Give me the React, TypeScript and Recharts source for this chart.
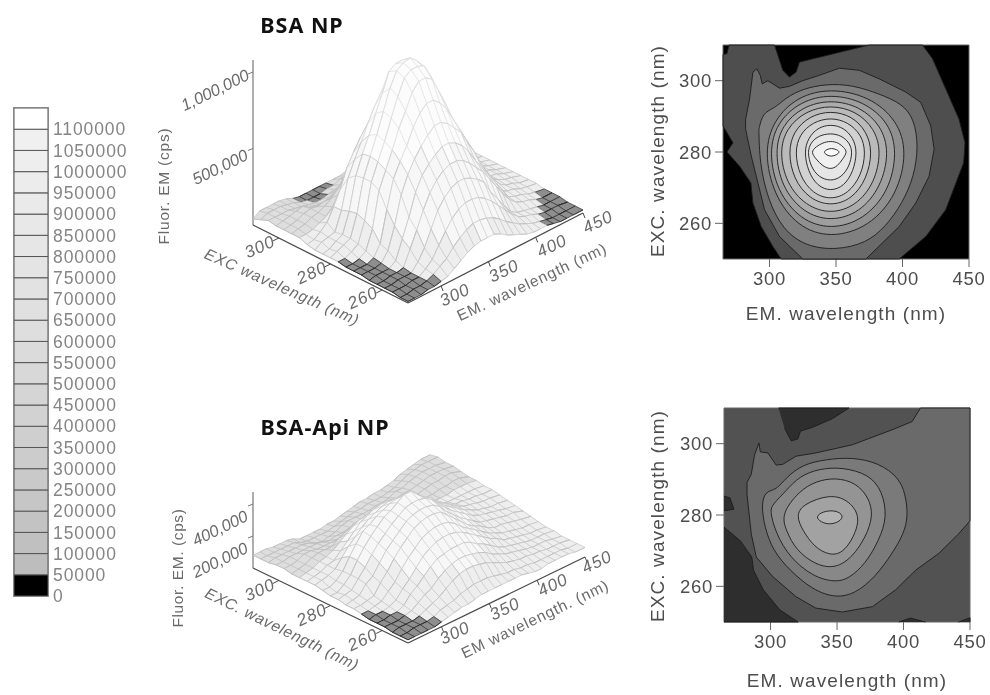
import { Bar, BarChart, ReferenceArea, Scatter, ScatterChart, XAxis, YAxis } from 'recharts';

const FONT = '"Liberation Sans", Arial, sans-serif';

type Pt = [number, number];

// ---- colour scale legend ----
const scaleTicks = [0, 50000, 100000, 150000, 200000, 250000, 300000, 350000, 400000, 450000, 500000, 550000, 600000, 650000, 700000, 750000, 800000, 850000, 900000, 950000, 1000000, 1050000, 1100000];
const scaleFills = ['#000000', '#bdbdbd', '#c0c0c0', '#c3c3c3', '#c6c6c6', '#c9c9c9', '#cccccc', '#cfcfcf', '#d2d2d2', '#d5d5d5', '#d8d8d8', '#dbdbdb', '#dedede', '#e0e0e0', '#e2e2e2', '#e4e4e4', '#e6e6e6', '#e8e8e8', '#eaeaea', '#ececec', '#eeeeee', '#f0f0f0', '#ffffff'];
const scaleRow: Record<string, string | number> = { name: 'scale' };
scaleFills.forEach((_, i) => { scaleRow[`b${i}`] = 50000; });

// ---- surface grids, heights in units of 10,000 cps ----
const emGrid = [265, 272, 279, 286, 293, 300, 307, 314, 321, 328, 335, 342, 349, 356, 363, 370, 377, 384, 391, 398, 405, 412, 419, 426, 433, 440, 450];
const excGrid = [310, 307, 304, 301, 298, 295, 292, 289, 286, 283, 280, 277, 274, 271, 268, 265, 262, 259, 256, 253, 250];

const bsaHeights = [
  [4, 7, 7, 7, 7, 6, 4, 3, 3, 3, 3, 3, 3, 3, 4, 4, 6, 6, 6, 6, 6, 5, 4, 4, 4, 4, 4],
  [6, 8, 8, 8, 7, 6, 4, 3, 3, 3, 4, 4, 6, 6, 6, 6, 6, 6, 6, 6, 6, 6, 6, 5, 4, 4, 4],
  [8, 8, 8, 8, 7, 6, 5, 4, 4, 5, 6, 7, 9, 10, 8, 7, 7, 7, 7, 7, 6, 6, 6, 5, 5, 4, 4],
  [7, 8, 9, 10, 11, 8, 7, 6, 8, 10, 11, 13, 14, 14, 14, 13, 12, 10, 9, 8, 8, 7, 7, 6, 5, 4, 4],
  [7, 8, 9, 11, 12, 11, 12, 12, 14, 17, 20, 24, 26, 25, 22, 20, 17, 14, 11, 9, 8, 7, 7, 6, 5, 4, 4],
  [7, 8, 9, 11, 12, 14, 17, 21, 27, 34, 38, 41, 42, 41, 38, 34, 30, 26, 22, 19, 15, 11, 9, 8, 6, 5, 4],
  [7, 7, 8, 10, 12, 16, 22, 32, 42, 50, 54, 56, 56, 54, 50, 46, 39, 33, 27, 21, 15, 10, 9, 7, 6, 4, 4],
  [5, 6, 9, 13, 21, 30, 42, 50, 57, 63, 69, 72, 72, 70, 64, 58, 51, 44, 35, 27, 20, 14, 10, 8, 6, 5, 4],
  [4, 7, 8, 9, 21, 40, 50, 59, 69, 78, 85, 89, 89, 85, 80, 70, 60, 51, 43, 32, 24, 17, 11, 9, 7, 6, 4],
  [4, 5, 8, 10, 23, 44, 56, 66, 78, 89, 101, 104, 104, 103, 91, 80, 68, 57, 47, 36, 27, 19, 13, 9, 8, 6, 4],
  [4, 6, 8, 10, 24, 45, 57, 69, 82, 95, 104, 107, 108, 104, 98, 83, 71, 59, 49, 38, 28, 20, 13, 9, 8, 6, 4],
  [4, 4, 6, 9, 22, 45, 56, 67, 80, 92, 102, 105, 105, 103, 94, 82, 69, 58, 49, 37, 28, 20, 13, 9, 8, 6, 4],
  [3, 3, 4, 7, 19, 42, 53, 64, 76, 85, 95, 100, 100, 97, 87, 77, 65, 55, 46, 35, 26, 19, 12, 9, 7, 6, 4],
  [3, 3, 3, 5, 12, 32, 50, 59, 67, 77, 84, 88, 88, 84, 78, 69, 60, 51, 42, 32, 24, 17, 11, 8, 7, 5, 4],
  [3, 3, 3, 4, 10, 24, 42, 53, 61, 67, 72, 76, 76, 73, 68, 63, 54, 46, 36, 28, 18, 11, 9, 8, 6, 5, 4],
  [2, 3, 3, 3, 6, 18, 30, 44, 53, 58, 62, 65, 65, 63, 59, 53, 45, 38, 31, 24, 17, 10, 8, 7, 5, 4, 3],
  [2, 2, 3, 3, 4, 14, 24, 35, 44, 50, 54, 56, 56, 54, 50, 45, 40, 33, 26, 19, 13, 9, 7, 6, 4, 3, 3],
  [2, 2, 3, 3, 3, 8, 15, 25, 35, 41, 45, 47, 47, 45, 42, 38, 29, 23, 16, 10, 7, 6, 5, 4, 3, 3, 3],
  [2, 2, 2, 3, 3, 6, 10, 17, 24, 30, 34, 36, 36, 35, 32, 28, 23, 18, 13, 9, 7, 6, 4, 3, 3, 3, 2],
  [1, 1, 2, 2, 3, 5, 8, 11, 16, 20, 23, 25, 25, 24, 22, 19, 15, 12, 9, 7, 5, 4, 3, 2, 2, 2, 2],
  [1, 1, 1, 2, 2, 3, 4, 7, 10, 13, 15, 16, 16, 16, 14, 11, 9, 7, 5, 4, 4, 4, 3, 2, 2, 2, 2],
];

const apiHeights = [
  [8, 8, 8, 7, 7, 7, 6, 4, 4, 4, 4, 5, 5, 6, 7, 8, 9, 9, 10, 10, 11, 12, 14, 15, 16, 17, 17],
  [8, 8, 8, 8, 8, 8, 6, 5, 5, 5, 5, 6, 7, 8, 9, 9, 10, 10, 10, 11, 12, 14, 16, 17, 18, 18, 18],
  [8, 9, 9, 9, 9, 9, 8, 6, 5, 6, 7, 9, 10, 10, 10, 10, 11, 11, 12, 14, 14, 16, 17, 18, 18, 18, 17],
  [9, 9, 10, 10, 10, 10, 10, 9, 8, 9, 9, 10, 10, 11, 11, 12, 13, 13, 14, 15, 15, 16, 17, 18, 18, 18, 17],
  [9, 9, 10, 12, 12, 11, 11, 11, 11, 11, 12, 12, 13, 13, 14, 14, 14, 14, 15, 15, 15, 16, 17, 17, 18, 18, 16],
  [8, 9, 10, 12, 13, 13, 13, 16, 18, 20, 21, 22, 22, 22, 22, 21, 20, 18, 16, 15, 15, 15, 16, 16, 17, 17, 15],
  [8, 9, 10, 12, 13, 15, 18, 21, 24, 26, 27, 28, 28, 28, 27, 26, 24, 22, 20, 18, 15, 15, 15, 16, 16, 16, 15],
  [8, 9, 10, 12, 13, 17, 21, 25, 29, 31, 33, 34, 34, 33, 32, 30, 27, 25, 22, 20, 16, 15, 15, 15, 15, 15, 14],
  [8, 9, 10, 12, 17, 22, 26, 30, 33, 35, 37, 38, 38, 37, 35, 33, 30, 27, 24, 21, 18, 16, 16, 15, 15, 14, 14],
  [7, 7, 9, 13, 20, 26, 32, 34, 37, 39, 41, 42, 42, 41, 39, 35, 31, 27, 25, 22, 19, 17, 16, 15, 14, 14, 13],
  [6, 6, 9, 13, 20, 26, 31, 35, 39, 41, 44, 47, 47, 43, 39, 37, 32, 28, 25, 22, 19, 17, 15, 14, 13, 13, 12],
  [6, 7, 8, 13, 18, 24, 29, 33, 37, 40, 43, 44, 44, 43, 40, 35, 31, 27, 24, 21, 18, 16, 15, 14, 13, 12, 11],
  [5, 6, 7, 12, 15, 21, 27, 31, 35, 39, 41, 42, 42, 41, 38, 33, 29, 25, 22, 19, 16, 15, 14, 13, 12, 12, 10],
  [5, 5, 6, 7, 13, 18, 24, 29, 33, 37, 39, 40, 40, 39, 35, 31, 27, 23, 20, 18, 15, 13, 13, 12, 11, 10, 9],
  [4, 4, 5, 6, 10, 14, 20, 25, 29, 33, 35, 36, 36, 35, 32, 28, 25, 22, 19, 16, 14, 12, 11, 10, 9, 9, 8],
  [3, 4, 4, 5, 7, 12, 16, 21, 26, 29, 31, 32, 32, 31, 29, 26, 23, 20, 17, 15, 12, 11, 10, 9, 8, 8, 7],
  [3, 3, 4, 4, 6, 11, 14, 18, 22, 25, 26, 27, 27, 27, 25, 22, 20, 17, 14, 12, 11, 10, 9, 8, 8, 8, 7],
  [3, 3, 3, 4, 5, 8, 11, 13, 17, 20, 22, 23, 23, 22, 21, 19, 16, 14, 12, 11, 10, 9, 8, 8, 8, 7, 6],
  [2, 3, 3, 3, 4, 6, 8, 10, 13, 16, 18, 19, 19, 18, 17, 15, 13, 11, 10, 9, 9, 8, 8, 7, 7, 7, 6],
  [2, 2, 3, 3, 3, 4, 6, 7, 8, 10, 11, 12, 12, 12, 11, 10, 9, 9, 8, 8, 7, 7, 7, 7, 7, 6, 6],
  [2, 2, 2, 2, 2, 3, 4, 5, 6, 6, 7, 8, 8, 8, 8, 8, 8, 8, 7, 6, 6, 7, 7, 7, 7, 6, 6],
];

// ---- contour outlines, [EM nm, EXC nm] ----
const emTicks = [300, 350, 400, 450];
const excTicks = [260, 280, 300];

const bsaOuter: Pt[] = [[269.5, 310], [303.75, 310], [310, 302.9], [315, 301], [320, 302.4], [322.5, 305.2], [375, 310], [415, 310], [422.5, 306.2], [432.5, 297.7], [442.5, 289.2], [447, 282.6], [446, 277], [432.5, 263.8], [417.5, 256.3], [397.5, 250], [308.75, 250], [302.5, 253.5], [293.75, 259.1], [287.5, 265.7], [286, 271.3], [277.5, 276], [268, 280], [272.5, 282.6], [265, 287.3], [265, 307.3], [268, 307.6], [269.5, 310]];
const bsaBandB: Pt[] = [[282, 289.2], [285, 294.9], [287.5, 302.4], [290.5, 303.3], [293, 301.5], [294.5, 299.1], [298.75, 300], [307.5, 297.9], [315, 298.4], [325, 300], [337.5, 301.5], [352.5, 303.5], [367.5, 302.9], [382.5, 300.5], [402.5, 296.8], [413.75, 293.9], [421.25, 287.3], [423.75, 280.8], [420, 273.2], [410, 265.7], [397.5, 259.1], [372.5, 250], [325, 250], [307.5, 256.3], [296.25, 263.8], [286.25, 278.9], [282, 286.4], [282, 289.2]];
const bsaBandC: Pt[] = [[292, 286.4], [295, 291.1], [303.75, 292.2], [312.5, 295.3], [325, 297.7], [342.5, 299.1], [362.5, 298.8], [382.5, 296.3], [400, 293.5], [408.75, 289.2], [412, 281.7], [408.75, 273.2], [400, 265.7], [387.5, 259.1], [372.5, 254.4], [350, 252.5], [327.5, 253.5], [310, 258.2], [298.75, 266.6], [292.5, 277], [292, 286.4]];
const bsaRing1: Pt[] = [[346, 297.9], [375, 295.6], [396, 289], [403.5, 280], [396, 268], [375, 259], [346, 255.8], [321, 259], [303, 268], [296, 280], [303, 289], [321, 295.6]];
const bsaRing2: Pt[] = [[346, 296.3], [371, 294.2], [390, 288.2], [396, 280], [390, 269.1], [371, 261], [346, 258.2], [323, 261], [305.5, 269.1], [299.5, 280], [305.5, 288.2], [323, 294.2]];
const bsaRing3: Pt[] = [[346, 294.7], [368, 292.8], [384, 287.4], [390, 280], [384, 270.3], [368, 263], [346, 260.5], [325, 263], [309, 270.3], [304, 280], [309, 287.4], [325, 292.8]];
const bsaRing4: Pt[] = [[346, 293.2], [365, 291.5], [379, 286.6], [384, 280], [379, 271.3], [365, 264.9], [346, 262.6], [327, 264.9], [312.5, 271.3], [307.5, 280], [312.5, 286.6], [327, 291.5]];
const bsaRing5: Pt[] = [[346, 291.6], [362, 290.1], [373, 285.8], [377.5, 280], [373, 272.4], [362, 266.8], [346, 264.8], [330, 266.8], [318, 272.4], [314, 280], [318, 285.8], [330, 290.1]];
const bsaRing6: Pt[] = [[346, 289.7], [359, 288.4], [369, 284.9], [372.5, 280], [369, 273.3], [359, 268.3], [346, 266.6], [332.5, 268.3], [322.5, 273.3], [319, 280], [322.5, 284.9], [332.5, 288.4]];
const bsaRing7: Pt[] = [[346, 287.8], [356, 286.8], [363, 283.9], [366, 280], [363, 274.5], [356, 270.4], [346, 269], [336, 270.4], [329, 274.5], [326, 280], [329, 283.9], [336, 286.8]];
const bsaRing8: Pt[] = [[346, 285.3], [354, 284.6], [360, 282.7], [362.5, 280], [360, 275.9], [354, 272.9], [346, 271.8], [337, 272.9], [331, 275.9], [328.5, 280], [331, 282.7], [337, 284.6]];
const bsaRing9: Pt[] = [[346, 283.1], [352, 282.6], [356, 281.2], [358.5, 280], [355, 278], [351, 276], [346, 275.1], [340, 276], [335, 278], [331, 280], [335, 281.5], [340, 282.6]];
const bsaPeak: Pt[] = [[346.5, 281.1], [350.5, 280.7], [353, 280], [350.5, 279.2], [346.5, 278.7], [343, 279.1], [340.5, 280], [343, 280.7]];

const apiBandB: Pt[] = [[412.7, 310], [450, 310], [450, 278.4], [441.4, 274.7], [426.4, 269.2], [409, 264.5], [394, 259], [376.6, 254.3], [354, 252.8], [334, 253.9], [319.2, 257.1], [301.7, 262.7], [289.3, 268.2], [285.5, 274.7], [282.3, 285.8], [282.3, 289.1], [285.5, 291.4], [288, 296.9], [291.3, 300.2], [292.3, 297.7], [298, 297.4], [304.2, 294], [309.2, 294.2], [319.2, 296.5], [334, 297.4], [361.6, 299.7], [391.5, 303.9], [406.5, 306.2], [412.7, 310]];
const apiNotch: Pt[] = [[306, 310], [359, 310], [346.5, 307], [331.7, 304.6], [322.5, 303.5], [320.5, 301.3], [315.5, 300.8], [310.5, 304.4]];
const apiPatch: Pt[] = [[265, 285.3], [269.5, 284.8], [272.5, 281.6], [265, 281.2]];
const apiCorner: Pt[] = [[265, 276.6], [277.2, 272.8], [285.9, 268.2], [287.2, 264.5], [294.6, 259], [307, 253.4], [320.7, 250], [265, 250]];
const apiNub1: Pt[] = [[396.5, 250], [405.2, 251.1], [416.5, 250]];
const apiNub2: Pt[] = [[441.4, 250], [450, 251.2], [450, 250]];
const apiRing1: Pt[] = [[293, 283], [296.3, 286.8], [304.2, 286.9], [311.7, 290.5], [324.2, 294.2], [341.6, 295.6], [361.6, 296.2], [381.5, 294.6], [396.5, 290.5], [401.5, 285.8], [403.5, 279.8], [400.2, 274.7], [391.5, 269.2], [379, 262.7], [364, 258], [349, 256.7], [331.7, 259], [314.2, 264.5], [301.7, 270.1], [295.5, 276.6]];
const apiRing2: Pt[] = [[299.3, 281.2], [301.7, 283], [311.7, 286.8], [321.7, 290.9], [336.7, 293], [354, 293.4], [374, 291.4], [384, 286.8], [387.8, 279.4], [381.5, 272.9], [371.6, 266.4], [359, 262.2], [349, 261.1], [331.7, 262.7], [314.2, 268.2], [304.2, 274.7]];
const apiRing3: Pt[] = [[308, 280.3], [321.7, 286.8], [334.2, 289.5], [349, 290.5], [364, 289.1], [374, 284.9], [377.3, 279.8], [371.6, 273.8], [361.6, 268.2], [349, 265], [334.2, 265.9], [319.2, 270.1], [311.7, 275.6]];
const apiRing4: Pt[] = [[319.2, 279.8], [324.2, 283], [344.1, 285.8], [357.9, 284.4], [367.8, 279.8], [362.8, 273.8], [354, 269.2], [344.1, 268.7], [332.9, 271], [324.2, 275.6]];
const apiPeak: Pt[] = [[333.7, 279.5], [339.2, 281], [349, 281.4], [355.4, 279.8], [351.6, 278], [344.1, 277.3], [337.9, 278]];

// fills run from the outer band inwards
const bsaLayers: { pts: Pt[]; fill: string; closed?: boolean }[] = [
  { pts: bsaOuter, fill: '#4e4e4e' },
  { pts: bsaBandB, fill: '#6a6a6a' },
  { pts: bsaBandC, fill: '#808080', closed: true },
  { pts: bsaRing1, fill: '#8f8f8f', closed: true },
  { pts: bsaRing2, fill: '#9e9e9e', closed: true },
  { pts: bsaRing3, fill: '#acacac', closed: true },
  { pts: bsaRing4, fill: '#bababa', closed: true },
  { pts: bsaRing5, fill: '#c6c6c6', closed: true },
  { pts: bsaRing6, fill: '#d2d2d2', closed: true },
  { pts: bsaRing7, fill: '#dcdcdc', closed: true },
  { pts: bsaRing8, fill: '#e6e6e6', closed: true },
  { pts: bsaRing9, fill: '#f0f0f0', closed: true },
  { pts: bsaPeak, fill: '#fafafa', closed: true },
];
const apiLayers: { pts: Pt[]; fill: string; closed?: boolean }[] = [
  { pts: apiCorner, fill: '#2e2e2e' },
  { pts: apiNotch, fill: '#2e2e2e' },
  { pts: apiPatch, fill: '#2e2e2e' },
  { pts: apiNub1, fill: '#2e2e2e' },
  { pts: apiNub2, fill: '#2e2e2e' },
  { pts: apiBandB, fill: '#6a6a6a' },
  { pts: apiRing1, fill: '#7a7a7a', closed: true },
  { pts: apiRing2, fill: '#888888', closed: true },
  { pts: apiRing3, fill: '#949494', closed: true },
  { pts: apiRing4, fill: '#a2a2a2', closed: true },
  { pts: apiPeak, fill: '#b2b2b2', closed: true },
];

// ---- mesh colours by height ----
const meshDark = { line: '#262626', fill: '#8e8e8e' };
const meshBack = { line: '#bdbdbd', fill: '#dedede' };
const meshBands = [
  { under: 20, line: '#c2c2c2', fill: '#eeeeee' },
  { under: 60, line: '#cacaca', fill: '#f7f7f7' },
  { under: 999, line: '#dcdcdc', fill: '#fcfcfc' },
];

type View = { front: Pt; left: Pt; right: Pt; zPx: number; darkUnder: number };
const bsaView: View = { front: [408, 303], left: [253, 225], right: [583, 213], zPx: 1.53, darkUnder: 4 };
const apiView: View = { front: [408, 643], left: [253, 568], right: [585, 557], zPx: 1.6, darkUnder: 4 };

function project(v: View, em: number, exc: number, z: number) {
  const u = (em - 265) / 185;
  const w = (exc - 250) / 60;
  return {
    x: v.front[0] + u * (v.right[0] - v.front[0]) + w * (v.left[0] - v.front[0]),
    y: v.front[1] + u * (v.right[1] - v.front[1]) + w * (v.left[1] - v.front[1]) - z * v.zPx,
  };
}

const hiddenDot = () => <g />;

function meshStrips(v: View, heights: number[][]) {
  const out: any[] = [];
  for (let r = 0; r < excGrid.length - 1; r++) {
    const styleOf = (z: number) => {
      if (z < v.darkUnder) return meshDark;
      if (excGrid[r] >= 295) return meshBack;
      return meshBands.find((b) => z < b.under) ?? meshBands[2];
    };
    const at = (row: number, c: number) => project(v, emGrid[c], excGrid[row], heights[row][c]);
    const quadZ = (c: number) => (heights[r][c] + heights[r][c + 1] + heights[r + 1][c] + heights[r + 1][c + 1]) / 4;
    let end = emGrid.length - 1;
    while (end > 0) {
      const style = styleOf(quadZ(end - 1));
      let start = end - 1;
      while (start > 0 && styleOf(quadZ(start - 1)) === style) start--;
      const outline = [];
      for (let c = start; c <= end; c++) outline.push(at(r, c));
      for (let c = end; c >= start; c--) outline.push(at(r + 1, c));
      // one polyline that walks every rung, then both rails of the strip
      const wires = [];
      for (let c = start; c <= end; c++) {
        const flip = (c - start) % 2 === 1;
        wires.push(at(flip ? r + 1 : r, c), at(flip ? r : r + 1, c));
      }
      const last = (end - start) % 2 === 1 ? r : r + 1;
      for (let c = end; c >= start; c--) wires.push(at(last, c));
      const other = last === r ? r + 1 : r;
      for (let c = start; c <= end; c++) wires.push(at(other, c));
      out.push(
        <Scatter key={`f${r}-${end}`} data={outline} shape={hiddenDot} line={{ fill: style.fill, stroke: 'none' }} isAnimationActive={false} />,
        <Scatter key={`l${r}-${end}`} data={wires} shape={hiddenDot} line={{ fill: 'none', stroke: style.line, strokeWidth: 0.7 }} isAnimationActive={false} />
      );
      end = start;
    }
  }
  return out;
}

function Tilted({ x, y, angle = 0, size = 15, color = '#6a6a6a', italic, bold, spacing, family, children }: any) {
  return (
    <div
      style={{
        position: 'absolute',
        left: x,
        top: y,
        transform: `translate(-50%, -50%) rotate(${angle}deg)`,
        fontFamily: family ?? FONT,
        fontSize: size,
        fontStyle: italic ? 'italic' : 'normal',
        fontWeight: bold ? 700 : 400,
        letterSpacing: spacing,
        color,
        whiteSpace: 'nowrap',
        lineHeight: 1,
      }}
    >
      {children}
    </div>
  );
}

function Surface3D({ view, heights, top, height, zTicks }: { view: View; heights: number[][]; top: number; height: number; zTicks: number[] }) {
  const line = (pts: { x: number; y: number }[], stroke: string, width: number, key: string) => (
    <Scatter key={key} data={pts} shape={hiddenDot} line={{ stroke, strokeWidth: width, fill: 'none' }} isAnimationActive={false} />
  );
  const corner = project(view, 265, 310, 0);
  const zTop = Math.max(...zTicks) * view.zPx + 12;
  return (
    <div style={{ position: 'absolute', left: 150, top, width: 470, height }}>
      <ScatterChart width={470} height={height} margin={{ top: 0, right: 0, bottom: 0, left: 0 }}>
        <XAxis type="number" dataKey="x" domain={[150, 620]} hide />
        <YAxis type="number" dataKey="y" domain={[top, top + height]} reversed hide />
        {line([project(view, 265, 310, 0), { x: corner.x, y: corner.y - zTop }], '#9a9a9a', 1.6, 'zaxis')}
        {zTicks.map((t) => {
          const p = project(view, 265, 310, t);
          return line([p, { x: p.x - 5, y: p.y + 2 }], '#777777', 1, `zt${t}`);
        })}
        {meshStrips(view, heights)}
        {line([project(view, 265, 310, 0), project(view, 265, 250, 0)], '#4a4a4a', 1.3, 'excaxis')}
        {line([project(view, 265, 250, 0), project(view, 450, 250, 0)], '#4a4a4a', 1.3, 'emaxis')}
        {excTicks.map((t) => {
          const p = project(view, 265, t, 0);
          return line([p, { x: p.x - 6, y: p.y + 3 }], '#4a4a4a', 1, `xt${t}`);
        })}
        {emTicks.map((t) => {
          const p = project(view, t, 250, 0);
          return line([p, { x: p.x + 2, y: p.y + 5 }], '#4a4a4a', 1, `et${t}`);
        })}
      </ScatterChart>
    </div>
  );
}

function ContourPlot({ left, top, layers, base }: { left: number; top: number; layers: { pts: Pt[]; fill: string; closed?: boolean }[]; base: string }) {
  const tickStyle = { fill: '#4d4d4d', fontSize: 18.5, fontFamily: FONT, letterSpacing: 0.7 };
  return (
    <div style={{ position: 'absolute', left, top }}>
      <ScatterChart width={345} height={270} margin={{ top: 0, right: 0, bottom: 0, left: 20 }}>
        <XAxis type="number" dataKey="em" domain={[265, 450]} ticks={emTicks} tickSize={8} tickMargin={5} height={41} stroke="#666666" tick={tickStyle} interval={0} />
        <XAxis xAxisId="top" type="number" dataKey="em" orientation="top" domain={[265, 450]} ticks={emTicks} tickSize={8} height={15} stroke="#666666" tickFormatter={() => ''} interval={0} />
        <YAxis type="number" dataKey="exc" domain={[250, 310]} ticks={excTicks} tickSize={8} tickMargin={3} width={63} stroke="#666666" tick={tickStyle} interval={0} />
        <YAxis yAxisId="right" type="number" dataKey="exc" orientation="right" domain={[250, 310]} ticks={excTicks} tickSize={8} width={16} stroke="#666666" tickFormatter={() => ''} interval={0} />
        <ReferenceArea x1={265} x2={450} y1={250} y2={310} fill={base} fillOpacity={1} stroke="none" />
        {layers.map((layer, i) => (
          <Scatter
            key={i}
            data={layer.pts.map(([em, exc]) => ({ em, exc }))}
            shape={hiddenDot}
            lineJointType={layer.closed ? 'basisClosed' : 'linear'}
            line={{ fill: layer.fill, stroke: '#1c1c1c', strokeWidth: 0.9 }}
            isAnimationActive={false}
          />
        ))}
      </ScatterChart>
    </div>
  );
}

export default function App() {
  return (
    <div style={{ position: 'absolute', left: 0, top: 0, width: 990, height: 695, background: '#ffffff', overflow: 'hidden', filter: 'blur(0.45px)' }}>
      {/* colour scale */}
      <div style={{ position: 'absolute', left: 14, top: 108 }}>
        <BarChart width={120} height={500} data={[scaleRow]} margin={{ top: 0, right: 0, bottom: 12, left: 0 }} barCategoryGap={0}>
          <XAxis dataKey="name" hide />
          <YAxis
            orientation="right"
            width={86}
            domain={[0, 1150000]}
            ticks={scaleTicks}
            interval={0}
            tickLine={false}
            axisLine={false}
            tickSize={0}
            tickMargin={5}
            tick={{ fill: '#858585', fontSize: 17.5, fontFamily: FONT, letterSpacing: 0.9, textAnchor: 'start' }}
          />
          {scaleFills.map((fill, i) => (
            <Bar key={i} dataKey={`b${i}`} stackId="scale" fill={fill} stroke="#555555" strokeWidth={1} isAnimationActive={false} />
          ))}
        </BarChart>
      </div>
      <div style={{ position: 'absolute', left: 13, top: 107, width: 34, height: 488, border: '1.5px solid #888888', boxSizing: 'content-box' }} />

      {/* surfaces */}
      <Surface3D view={bsaView} heights={bsaHeights} top={40} height={290} zTicks={[50, 100]} />
      <Surface3D view={apiView} heights={apiHeights} top={440} height={230} zTicks={[20, 40]} />

      <Tilted x={302} y={25} size={21.5} bold color="#111111" family='"Noto Sans", sans-serif' spacing={1}>BSA NP</Tilted>
      <Tilted x={325} y={427} size={21.5} bold color="#111111" family='"Noto Sans", sans-serif' spacing={1}>BSA-Api NP</Tilted>

      <Tilted x={215} y={90} angle={-26} size={16.5} italic>1,000,000</Tilted>
      <Tilted x={220} y={167} angle={-26} size={16.5} italic>500,000</Tilted>
      <Tilted x={164} y={186} angle={-90} size={15.5} spacing={0.8}>Fluor. EM (cps)</Tilted>
      <Tilted x={260} y={247} angle={-25} size={17} italic spacing={1}>300</Tilted>
      <Tilted x={312} y={273} angle={-25} size={17} italic spacing={1}>280</Tilted>
      <Tilted x={363} y={298} angle={-25} size={17} italic spacing={1}>260</Tilted>
      <Tilted x={282} y={287} angle={24} size={15.5} italic spacing={0.9}>EXC wavelength (nm)</Tilted>
      <Tilted x={455} y={295} angle={-26} size={17} italic spacing={1}>300</Tilted>
      <Tilted x={504} y={271} angle={-26} size={17} italic spacing={1}>350</Tilted>
      <Tilted x={552} y={246} angle={-26} size={17} italic spacing={1}>400</Tilted>
      <Tilted x={598} y={222} angle={-26} size={17} italic spacing={1}>450</Tilted>
      <Tilted x={532} y={282} angle={-25} size={15.5} spacing={0.9}>EM. wavelength (nm)</Tilted>

      <Tilted x={220} y={528} angle={-26} size={16.5} italic>400,000</Tilted>
      <Tilted x={220} y={560} angle={-26} size={16.5} italic>200,000</Tilted>
      <Tilted x={178} y={568} angle={-90} size={15.5} spacing={0.6}>Fluor. EM. (cps)</Tilted>
      <Tilted x={260} y={590} angle={-25} size={17} italic spacing={1}>300</Tilted>
      <Tilted x={312} y={615} angle={-25} size={17} italic spacing={1}>280</Tilted>
      <Tilted x={363} y={640} angle={-25} size={17} italic spacing={1}>260</Tilted>
      <Tilted x={282} y={629} angle={26} size={15.5} italic spacing={0.7}>EXC. wavelength (nm)</Tilted>
      <Tilted x={455} y={633} angle={-26} size={17} italic spacing={1}>300</Tilted>
      <Tilted x={505} y={609} angle={-26} size={17} italic spacing={1}>350</Tilted>
      <Tilted x={553} y={585} angle={-26} size={17} italic spacing={1}>400</Tilted>
      <Tilted x={597} y={562} angle={-26} size={17} italic spacing={1}>450</Tilted>
      <Tilted x={535} y={619} angle={-25.6} size={15.5} spacing={0.8}>EM wavelength. (nm)</Tilted>

      {/* contour maps */}
      <ContourPlot left={640} top={30} layers={bsaLayers} base="#000000" />
      <ContourPlot left={641} top={393} layers={apiLayers} base="#525252" />

      <Tilted x={846} y={313} size={19} color="#4d4d4d" spacing={1.1}>EM. wavelength (nm)</Tilted>
      <Tilted x={657} y={151} angle={-90} size={19} color="#4d4d4d" spacing={1.1}>EXC. wavelength (nm)</Tilted>
      <Tilted x={847} y={680} size={19} color="#4d4d4d" spacing={1.1}>EM. wavelength (nm)</Tilted>
      <Tilted x={657} y={516} angle={-90} size={19} color="#4d4d4d" spacing={1.1}>EXC. wavelength (nm)</Tilted>
    </div>
  );
}
